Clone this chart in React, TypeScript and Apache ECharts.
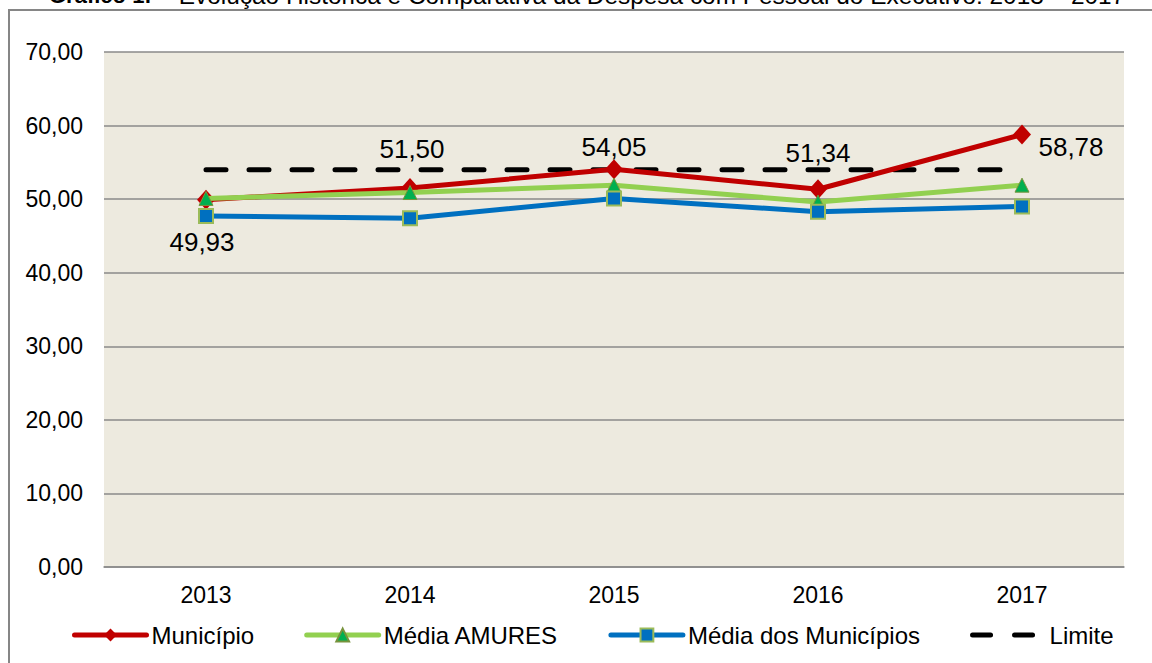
import React, { useEffect, useRef } from "react";
import * as echarts from "echarts";

const years = ["2013", "2014", "2015", "2016", "2017"];
const municipio = [49.93, 51.5, 54.05, 51.34, 58.78];
const mediaAmures = [50.1, 50.9, 51.9, 49.6, 51.9];
const mediaMunicipios = [47.7, 47.4, 50.1, 48.3, 49.0];
const limite = [54, 54, 54, 54, 54];
const yMin = 0;
const yMax = 70;
const yInterval = 10;
const titleBold = "Gráfico 1:";
const titleRest = " – Evolução Histórica e Comparativa da Despesa com Pessoal do Executivo: 2013 – 2017";
const seriesNames = ["Município", "Média AMURES", "Média dos Municípios", "Limite"];
const municipioLabelOffsets: [number, number][] = [
  [-4, 42],
  [2, -39],
  [0, -22],
  [0, -36],
  [49, 12],
];

const FONT = "'Liberation Sans', Arial, sans-serif";
const fmt = (v: number) => v.toFixed(2).replace(".", ",");

export default function App() {
  const ref = useRef<HTMLDivElement>(null);
  useEffect(() => {
    if (!ref.current) return;
    const chart = echarts.init(ref.current, null, { renderer: "svg" });
    chart.setOption({
      animation: false,
      backgroundColor: "#ffffff",
      textStyle: { fontFamily: FONT },
      graphic: [
        {
          type: "rect",
          shape: { x: 9, y: 10, width: 1160, height: 680 },
          style: { fill: "none", stroke: "#868686", lineWidth: 2 },
          z: 0,
        },
        {
          type: "text",
          x: 49,
          y: 7,
          style: {
            text: "{b|" + titleBold + "}{r|" + titleRest + "}",
            verticalAlign: "bottom",
            rich: {
              b: { fontFamily: FONT, fontSize: 22, fontWeight: "bold", fill: "#000" },
              r: { fontFamily: FONT, fontSize: 24.4, fill: "#000" },
            },
          },
        },
      ],
      grid: {
        left: 104,
        right: 28,
        top: 52,
        bottom: 96,
        show: true,
        backgroundColor: "#EDEADF",
        borderWidth: 0,
      },
      legend: {
        left: 67,
        top: 618,
        itemGap: 50,
        itemWidth: 72,
        itemHeight: 16,
        lineStyle: { width: 5, cap: "round" },
        textStyle: { fontFamily: FONT, fontSize: 24, color: "#000" },
        data: [
          { name: seriesNames[0] },
          { name: seriesNames[1] },
          { name: seriesNames[2] },
          {
            name: seriesNames[3],
            itemStyle: { opacity: 0 },
            lineStyle: { width: 5, type: [18, 24], cap: "round", color: "#000" },
          },
        ],
      },
      xAxis: {
        type: "category",
        data: years,
        boundaryGap: true,
        axisLine: { show: true, lineStyle: { color: "#8A8A8A", width: 1.5 } },
        axisTick: { show: false },
        axisLabel: { fontFamily: FONT, fontSize: 23, color: "#000", margin: 16 },
      },
      yAxis: {
        type: "value",
        min: yMin,
        max: yMax,
        interval: yInterval,
        axisLine: { show: false },
        axisTick: { show: false },
        splitLine: { show: true, lineStyle: { color: "#8A8A8A", width: 1.5 } },
        axisLabel: {
          fontFamily: FONT,
          fontSize: 23,
          color: "#000",
          margin: 21,
          formatter: (v: number) => fmt(v),
        },
      },
      series: [
        {
          name: seriesNames[3],
          type: "line",
          data: limite,
          symbol: "none",
          z: 1,
          lineStyle: { color: "#000", width: 5, type: [20, 23], cap: "round" },
          itemStyle: { color: "#000" },
        },
        {
          name: seriesNames[0],
          type: "line",
          z: 2,
          data: municipio.map((v, i) => ({
            value: v,
            label: { offset: municipioLabelOffsets[i] },
          })),
          symbol: "diamond",
          symbolSize: [18, 20],
          lineStyle: { color: "#C00000", width: 5 },
          itemStyle: { color: "#C00000" },
          label: {
            show: true,
            position: "inside",
            fontFamily: FONT,
            fontSize: 26,
            color: "#000",
            formatter: (p: any) => fmt(p.value),
          },
        },
        {
          name: seriesNames[1],
          type: "line",
          z: 3,
          data: mediaAmures,
          symbol: "triangle",
          symbolSize: 14,
          lineStyle: { color: "#92D050", width: 5 },
          itemStyle: { color: "#00B050", borderColor: "#77933C", borderWidth: 1 },
        },
        {
          name: seriesNames[2],
          type: "line",
          z: 3,
          data: mediaMunicipios,
          symbol: "rect",
          symbolSize: 14,
          lineStyle: { color: "#0070C0", width: 5 },
          itemStyle: { color: "#0070C0", borderColor: "#9BBB59", borderWidth: 2 },
        },
      ],
    });
    return () => chart.dispose();
  }, []);
  return (
    <div
      ref={ref}
      style={{ position: "fixed", left: 0, top: 0, width: 1152, height: 663 }}
    />
  );
}
